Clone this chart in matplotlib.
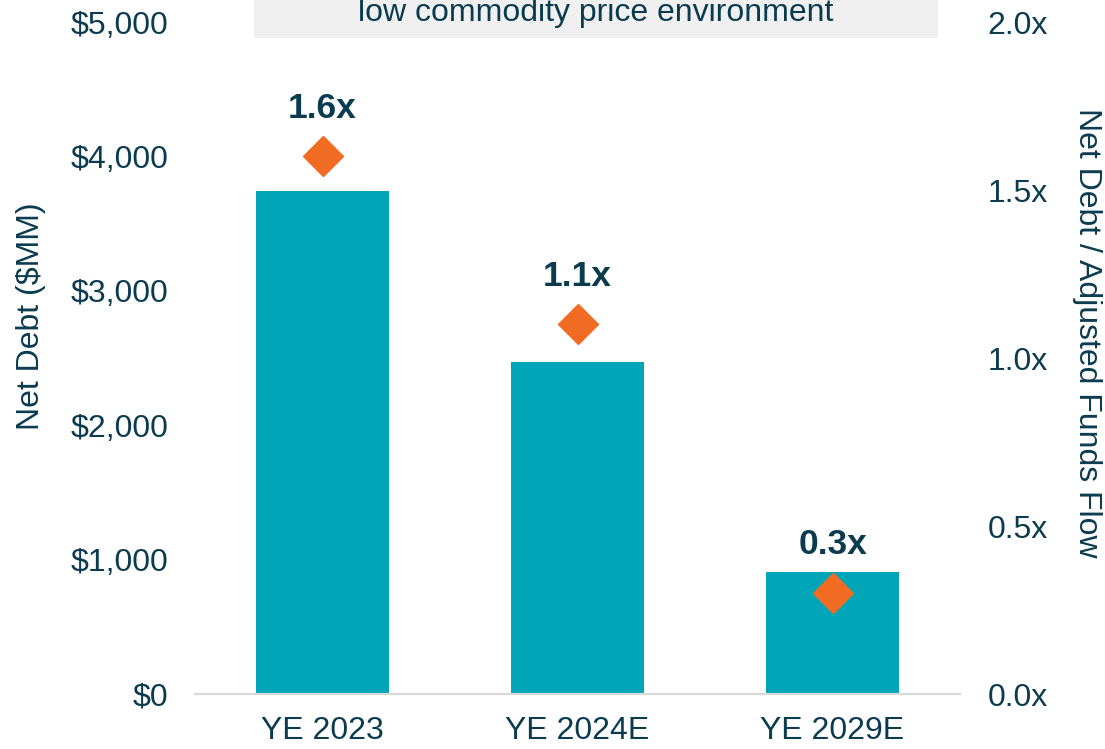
import numpy as np
import matplotlib
matplotlib.use("Agg")
import matplotlib.pyplot as plt
from matplotlib.patches import Rectangle
from matplotlib.ticker import FuncFormatter

plt.rcParams['font.family'] = ['Liberation Sans', 'DejaVu Sans']

# data
years = ["YE 2023", "YE 2024E", "YE 2029E"]
net_debt = [3740, 2470, 910]          # $MM
leverage = [1.6, 1.1, 0.3]            # Net debt / AFF
leverage_labels = ["1.6x", "1.1x", "0.3x"]
banner_text = "low commodity price environment"

txt = "#0B3B4F"
teal = "#00A5B8"
orange = "#F26B22"
fs = 23

fig = plt.figure(figsize=(11.05, 7.49), dpi=100)
ax = fig.add_axes([0.1765, 0.0734, 0.8688 - 0.1765, 0.9706 - 0.0734])
ax2 = ax.twinx()
ax.patch.set_visible(False)
ax2.patch.set_visible(False)

x = np.arange(len(years))
ax.bar(x, net_debt, width=0.52, color=teal, zorder=2)
ax.set_xlim(-0.5, 2.5)
ax.set_ylim(0, 5000)
ax.set_yticks(np.arange(0, 5001, 1000))
ax.yaxis.set_major_formatter(FuncFormatter(lambda v, p: "${:,.0f}".format(v)))
ax.set_xticks(x)
ax.set_xticklabels(years)
ax.set_ylabel("Net Debt ($MM)", fontsize=fs, color=txt)
ax.yaxis.set_label_coords(-0.195, 0.5625)

ax2.plot(x, leverage, linestyle="none", marker="D", markersize=20,
         color=orange, zorder=3)
for xi, yi, lab in zip(x, leverage, leverage_labels):
    ax2.annotate(lab, (xi, yi), xytext=(0, 28), textcoords="offset points",
                 ha="center", va="baseline", fontsize=25.5, fontweight="bold",
                 color=txt)
ax2.set_ylim(0, 2.0)
ax2.set_yticks(np.arange(0, 2.01, 0.5))
ax2.yaxis.set_major_formatter(FuncFormatter(lambda v, p: "{:.1f}x".format(v)))
ax2.set_ylabel("Net Debt / Adjusted Funds Flow", fontsize=fs, color=txt,
               rotation=270, va="center")
ax2.yaxis.set_label_coords(1.166, 0.537)

for a in (ax, ax2):
    for s in ("top", "left", "right"):
        a.spines[s].set_visible(False)
    a.spines["bottom"].set_color("#D9D9D9")
    a.spines["bottom"].set_linewidth(1.6)
ax2.spines["bottom"].set_visible(False)

ax.tick_params(axis="y", length=0, pad=19, labelsize=fs, labelcolor=txt)
ax.tick_params(axis="x", length=0, pad=16, labelsize=fs, labelcolor=txt)
ax2.tick_params(axis="y", length=0, pad=20, labelsize=fs, labelcolor=txt)

# grey banner at top, partly cut off
fig.add_artist(Rectangle((254 / 1105, 1 - 38 / 749), (938 - 254) / 1105, 0.1,
                         transform=fig.transFigure, facecolor="#F0F0F0",
                         edgecolor="none", zorder=-1))
fig.text(596 / 1105, 1 - 21 / 749, banner_text, ha="center", va="baseline",
         fontsize=fs, color=txt)

fig.savefig("out.png", dpi=100)
